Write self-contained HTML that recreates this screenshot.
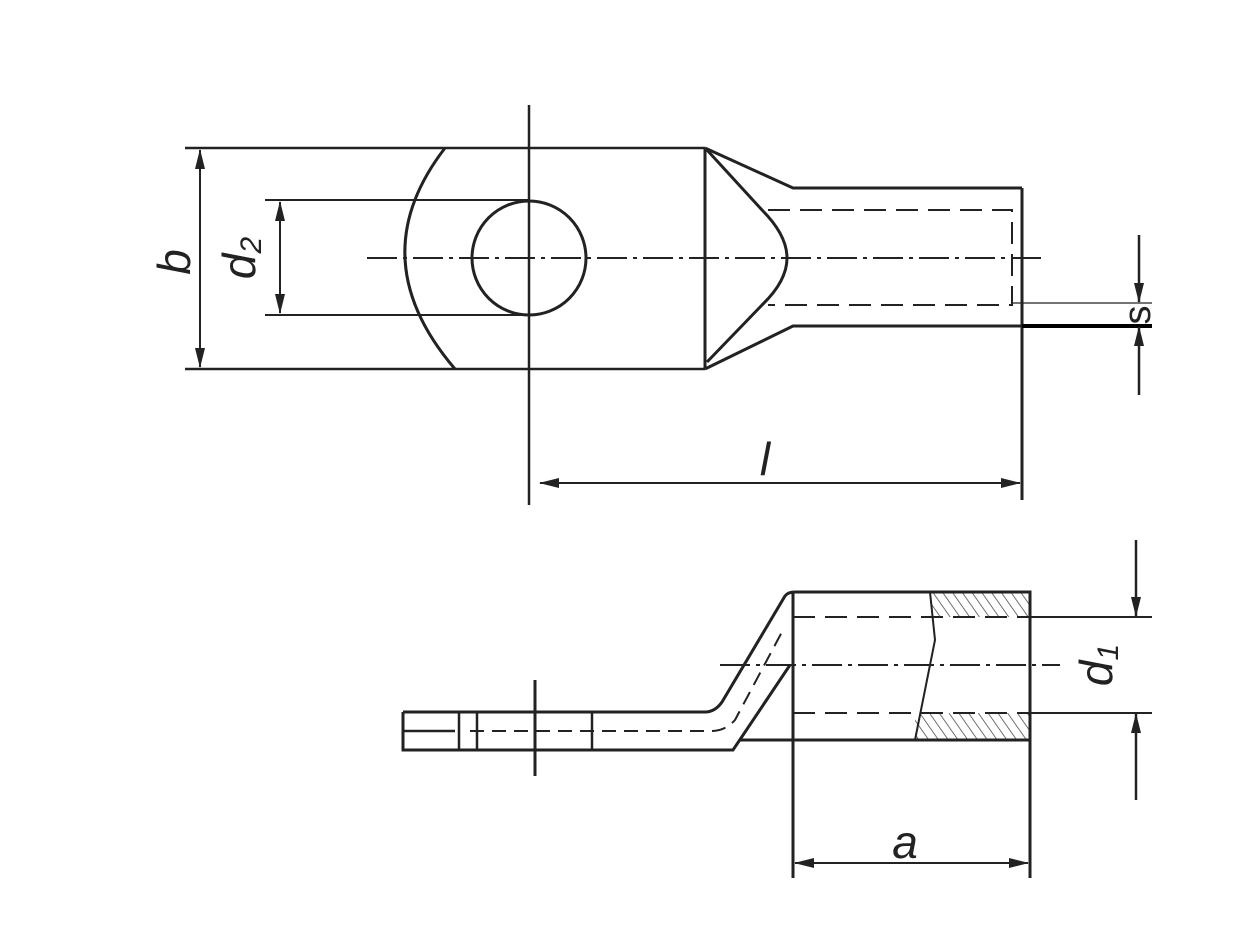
<!DOCTYPE html>
<html><head><style>body{margin:0;background:#fff}svg{display:block}</style></head><body>
<svg width="1260" height="945" viewBox="0 0 1260 945" xmlns="http://www.w3.org/2000/svg" font-family="Liberation Sans, sans-serif">
<defs>
<marker id="ar" markerWidth="20" markerHeight="10" refX="19" refY="5" orient="auto" markerUnits="userSpaceOnUse"><path d="M0,0 L20,5 L0,10 Z" fill="#222"/></marker>
<pattern id="h" width="8" height="8" patternUnits="userSpaceOnUse" patternTransform="rotate(-35)"><line x1="0" y1="0" x2="0" y2="8" stroke="#444" stroke-width="1.5"/></pattern>
</defs>
<g stroke="#222" fill="none" stroke-width="2.5">
<!-- top view -->
<line x1="185" y1="148" x2="705" y2="148"/>
<line x1="185" y1="369" x2="705" y2="369"/>
<path d="M445,148 Q360,258 455,369" stroke-width="3"/>
<line x1="705" y1="148" x2="705" y2="369" stroke-width="3"/>
<circle cx="529" cy="258" r="57" stroke-width="3"/>
<line x1="265" y1="200" x2="529" y2="200" stroke-width="2"/>
<line x1="265" y1="315" x2="529" y2="315" stroke-width="2"/>
<line x1="200" y1="258" x2="200" y2="150" marker-end="url(#ar)" stroke-width="2"/>
<line x1="200" y1="258" x2="200" y2="367" marker-end="url(#ar)" stroke-width="2"/>
<line x1="280" y1="258" x2="280" y2="202" marker-end="url(#ar)" stroke-width="2"/>
<line x1="280" y1="258" x2="280" y2="313" marker-end="url(#ar)" stroke-width="2"/>
<line x1="529" y1="105" x2="529" y2="505"/>
<line x1="367" y1="258" x2="1045" y2="258" stroke-dasharray="30,6,4,6" stroke-width="2"/>
<path d="M705,148 L793,188 L1022,188" stroke-width="3"/>
<path d="M705,369 L793,326 L1022,326" stroke-width="3"/>
<line x1="1022" y1="188" x2="1022" y2="500" stroke-width="3"/>
<path d="M707,150 L762,210 Q787,235 787,258 Q787,281 762,305 L707,362" stroke-width="3"/>
<path d="M768,210 L1012,210 L1012,305 L768,305" stroke-dasharray="22,10" stroke-width="2"/>
<line x1="1012" y1="303" x2="1152" y2="303" stroke-width="1.2"/>
<line x1="1022" y1="326" x2="1152" y2="326" stroke-width="4" stroke="#000"/>
<line x1="1139" y1="235" x2="1139" y2="302" marker-end="url(#ar)" stroke-width="2.5"/>
<line x1="1139" y1="395" x2="1139" y2="327" marker-end="url(#ar)" stroke-width="2.5"/>
<line x1="770" y1="483" x2="540" y2="483" marker-end="url(#ar)" stroke-width="2"/>
<line x1="770" y1="483" x2="1020" y2="483" marker-end="url(#ar)" stroke-width="2"/>
<!-- bottom view -->
<rect x="930" y="593" width="100" height="24" fill="url(#h)" stroke="none"/>
<rect x="915" y="713" width="115" height="27" fill="url(#h)" stroke="none"/>
<path d="M705,712 Q715,712 722,702 L785,596 Q788,592 795,592 L1030,592 L1030,740 L740,740" stroke-width="3"/>
<path d="M403,712 L705,712" stroke-width="3"/>
<path d="M403,712 L403,750 L733,750 L790,665" stroke-width="3"/>
<line x1="793" y1="592" x2="793" y2="878" stroke-width="3"/>
<line x1="1030" y1="740" x2="1030" y2="878" stroke-width="3"/>
<path d="M930,592 L935,640 L925,690 L915,740" stroke-width="2"/>
<line x1="793" y1="617" x2="1030" y2="617" stroke-dasharray="22,10" stroke-width="2"/>
<line x1="1030" y1="617" x2="1152" y2="617" stroke-width="2"/>
<line x1="720" y1="665" x2="1060" y2="665" stroke-dasharray="30,6,4,6" stroke-width="2"/>
<line x1="793" y1="713" x2="1030" y2="713" stroke-dasharray="22,10" stroke-width="2"/>
<line x1="1030" y1="713" x2="1152" y2="713" stroke-width="2"/>
<path d="M470,731 L712,731 Q725,731 735,720 L783,630" stroke-dasharray="14,8" stroke-width="2"/>
<line x1="403" y1="731" x2="455" y2="731" stroke-width="2.5"/>
<line x1="459" y1="712" x2="459" y2="750" stroke-width="2.5"/>
<line x1="477" y1="712" x2="477" y2="750" stroke-width="2.5"/>
<line x1="592" y1="712" x2="592" y2="750" stroke-width="2.5"/>
<line x1="535" y1="680" x2="535" y2="776" stroke-width="3"/>
<line x1="1136" y1="540" x2="1136" y2="616" marker-end="url(#ar)" stroke-width="2.5"/>
<line x1="1136" y1="800" x2="1136" y2="714" marker-end="url(#ar)" stroke-width="2.5"/>
<line x1="910" y1="863" x2="795" y2="863" marker-end="url(#ar)" stroke-width="2"/>
<line x1="910" y1="863" x2="1028" y2="863" marker-end="url(#ar)" stroke-width="2"/>
</g>
<g fill="#222" font-style="italic">
<text x="0" y="0" font-size="46" transform="translate(190,262) rotate(-90)" text-anchor="middle">b</text>
<text x="0" y="0" font-size="46" transform="translate(255,258) rotate(-90)" text-anchor="middle">d<tspan font-size="30" dy="6">2</tspan></text>
<text x="765" y="475" font-size="46" text-anchor="middle">l</text>
<text x="0" y="0" font-size="38" font-style="normal" transform="translate(1150,315) rotate(-90)" text-anchor="middle">s</text>
<text x="0" y="0" font-size="46" transform="translate(1112,665) rotate(-90)" text-anchor="middle">d<tspan font-size="30" dy="6">1</tspan></text>
<text x="905" y="858" font-size="46" text-anchor="middle">a</text>
</g>
</svg>
</body></html>
